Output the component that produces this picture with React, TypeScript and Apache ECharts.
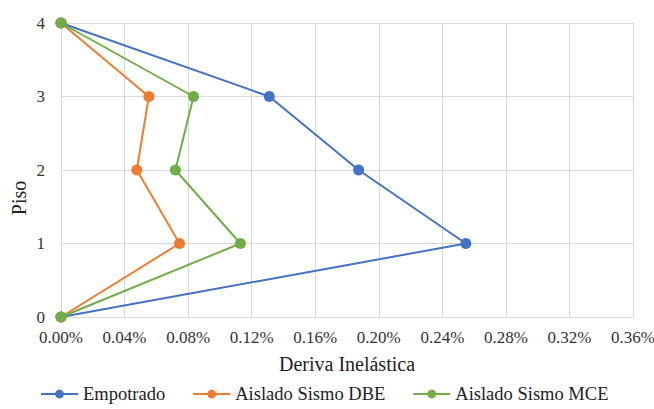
import React, { useEffect, useRef } from "react";
import * as echarts from "echarts";

const floors = [0, 1, 2, 3, 4];
const empotrado = [0, 0.2548, 0.1873, 0.1311, 0];
const aisladoDBE = [0, 0.0746, 0.0477, 0.0553, 0];
const aisladoMCE = [0, 0.1129, 0.072, 0.0834, 0];
const seriesNames = ["Empotrado", "Aislado Sismo DBE", "Aislado Sismo MCE"];
const colors = ["#4472C4", "#ED7D31", "#70AD47"];
const xTitle = "Deriva Inelástica";
const yTitle = "Piso";

const FONT = '"Liberation Serif", "Times New Roman", serif';

export default function App() {
  const ref = useRef<HTMLDivElement>(null);
  useEffect(() => {
    if (!ref.current) return;
    const chart = echarts.init(ref.current, undefined, { renderer: "svg" });
    const datasets = [empotrado, aisladoDBE, aisladoMCE];
    chart.setOption({
      animation: false,
      textStyle: { fontFamily: FONT },
      grid: { left: 61, right: 21, top: 23, bottom: 92, outerBoundsMode: "none", containLabel: false },
      legend: {
        top: 384,
        left: 40,
        padding: 0,
        itemWidth: 37,
        itemHeight: 11,
        itemGap: 27,
        textStyle: { fontFamily: FONT, fontSize: 18.5, color: "#222", lineHeight: 20 },
        data: seriesNames,
      },
      graphic: [
        {
          type: "text",
          x: 19,
          y: 198,
          rotation: Math.PI / 2,
          style: {
            text: yTitle,
            font: `20px ${FONT}`,
            fill: "#222",
            align: "center",
            verticalAlign: "middle",
          },
        },
      ],
      xAxis: {
        type: "value",
        min: 0,
        max: 0.36,
        interval: 0.04,
        name: xTitle,
        nameLocation: "middle",
        nameGap: 37,
        nameTextStyle: { fontFamily: FONT, fontSize: 20, color: "#222" },
        axisLine: { show: true, lineStyle: { color: "#d9d9d9" } },
        axisTick: { show: false },
        axisLabel: {
          fontFamily: FONT,
          fontSize: 17,
          color: "#333",
          margin: 12,
          formatter: (v: number) => v.toFixed(2) + "%",
        },
        splitLine: { show: true, lineStyle: { color: "#d9d9d9" } },
      },
      yAxis: {
        type: "value",
        min: 0,
        max: 4,
        interval: 1,
        axisLine: { show: true, lineStyle: { color: "#d9d9d9" } },
        axisTick: { show: false },
        axisLabel: { fontFamily: FONT, fontSize: 17, color: "#333", margin: 16 },
        splitLine: { show: true, lineStyle: { color: "#d9d9d9" } },
      },
      series: datasets.map((d, i) => ({
        name: seriesNames[i],
        type: "line",
        data: d.map((v, j) => [v, floors[j]]),
        color: colors[i],
        symbol: "circle",
        symbolSize: 11,
        lineStyle: { width: 2, color: colors[i] },
        itemStyle: { color: colors[i] },
      })),
    });
    return () => chart.dispose();
  }, []);
  return <div ref={ref} style={{ width: 654, height: 409, position: "absolute", left: 0, top: 0 }} />;
}
